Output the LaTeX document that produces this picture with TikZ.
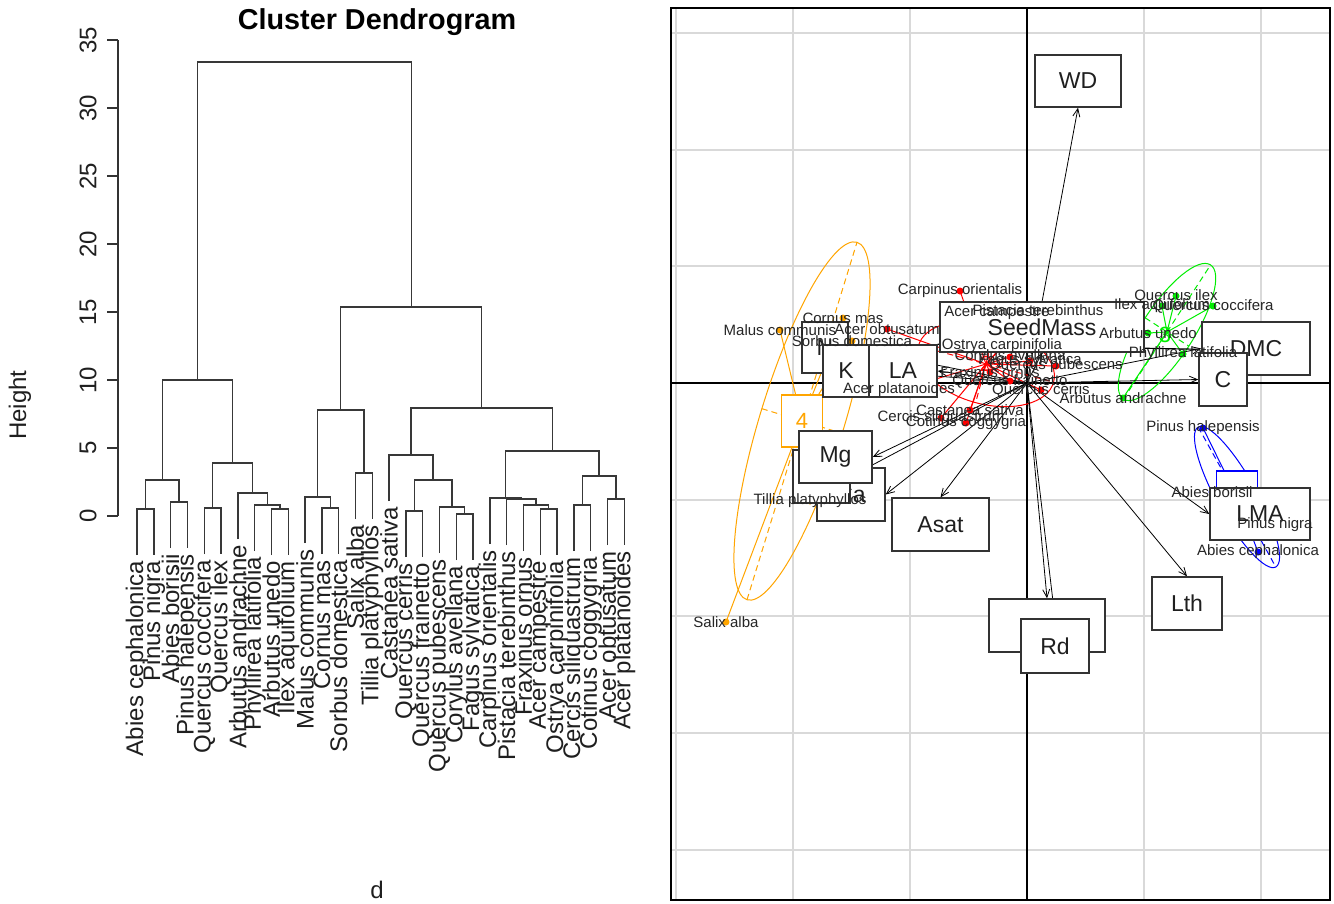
\documentclass[tikz,border=0pt]{standalone}
\usepackage{fontspec}
\setmainfont{Liberation Sans}
\usetikzlibrary{arrows.meta}
\newcommand{\myfs}[1]{\fontsize{#1}{#1}\selectfont}
\pgfdeclarelayer{gridl}\pgfdeclarelayer{clul}\pgfdeclarelayer{arrl}\pgfdeclarelayer{labl}
\pgfsetlayers{gridl,clul,arrl,main,labl}
\definecolor{clorange}{HTML}{FFA500}
\definecolor{clgreen}{HTML}{00EE00}
\definecolor{clblue}{HTML}{0000FF}
\definecolor{clred}{HTML}{FF0000}
\begin{document}
\begin{tikzpicture}[x=1pt,y=-1pt,
  dend/.style={line width=1.4pt, draw=black!78},
  leaflab/.style={font=\myfs{24}, rotate=90, anchor=east, inner sep=0pt, text=black!88},
  ticklab/.style={font=\myfs{24}, rotate=90, inner sep=0pt, text=black!88},
  gridln/.style={line width=1.5pt, draw=black!15},
  axln/.style={line width=1.2pt, draw=black},
  arr/.style={-{Straight Barb[length=8pt,width=7pt]}, line width=0.8pt, draw=black},
  vbox/.style={draw=black!80, line width=1.4pt, fill=white, font=\myfs{23}, inner sep=0pt, minimum height=52pt, text=black!88},
  cbox/.style={draw=#1, line width=1.2pt, fill=white, font=\myfs{22}, text=#1, inner sep=0pt, minimum height=52pt, minimum width=41pt},
  splab/.style={font=\myfs{15}, inner sep=0pt, text=black!85},
  spt/.style={circle, inner sep=0pt, minimum size=7pt, fill=#1},
  clu/.style={draw=#1, line width=1pt},
  cax/.style={draw=#1, line width=1pt, dash pattern=on 6pt off 4pt}]
\useasboundingbox (0,0) rectangle (1334,903);

% ================= Dendrogram =================
\node[font=\bfseries\myfs{28.8}] (title) at (377,22) {Cluster Dendrogram};
\node[font=\myfs{24}, rotate=90, text=black!88] (ylab) at (20,405) {Height};
\node[font=\myfs{24}, text=black!88] (xlab) at (377,890) {d};
\draw[axln, draw=black!80] (118,40) -- (118,516);
\foreach \v/\yy in {0/516,5/448,10/380,15/312,20/244,25/176,30/108,35/40} {
  \draw[axln, draw=black!80] (107,\yy) -- (118,\yy);
  \node[ticklab] (yt\v) at (88,\yy) {\v};
}
\foreach \i/\x/\e/\t in {
 0/137/555/Abies cephalonica, 1/153.8/555/Pinus nigra, 2/170.6/548/Abies borisii,
 3/187.4/548/Pinus halepensis, 4/204.2/554/Quercus coccifera, 5/221/554/Quercus ilex,
 6/237.8/539/Arbutus andrachne, 7/254.6/551/Phyllirea latifolia, 8/271.4/555/Arbutus unedo,
 9/288.2/555/Ilex aquifolium, 10/305/543/Malus communis, 11/321.8/554/Cornus mas,
 12/338.6/554/Sorbus domestica, 13/355.4/519/Salix alba, 14/372.2/519/Tillia platyphyllos,
 15/389/501/Castanea sativa, 16/405.8/557/Quercus cerris, 17/422.6/557/Quercus frainetto,
 18/439.4/553/Quercus pubescens, 19/456.2/560/Corylus avellana, 20/473/560/Fagus sylvatica,
 21/489.8/544/Carpinus orientalis, 22/506.6/545/Pistacia terebinthus, 23/523.4/551/Fraxinus ornus,
 24/540.2/555/Acer campestre, 25/557/555/Ostrya carpinifolia, 26/573.8/551/Cercis siliquastrum,
 27/590.6/551/Cotinus coggygria, 28/607.4/545/Acer obtusatum, 29/624.2/545/Acer platanoides} {
  \coordinate (l\i) at (\x,\e);
  \node[leaflab] (lt\i) at (\x,\e+6) {\t};
}
\foreach \m/\x/\y/\a/\b in {
 mA/145.4/509/l0/l1, mB/179/502/l2/l3, mC/162.2/480/mA/mB, mD/212.6/508/l4/l5,
 mE/279.8/509/l8/l9, mF/267.2/505/l7/mE, mG/252.5/493/l6/mF, mH/232.55/463/mD/mG,
 mL/197.4/380/mC/mH, mI/330.2/508/l11/l12, mJ/317.6/497/l10/mI, mK/363.8/473/l13/l14,
 mM/340.7/410/mJ/mK, mN/414.2/511/l16/l17, mO/464.6/514/l19/l20, mP/452/507/l18/mO,
 mQ/433.1/480/mN/mP, mR/411.05/455/l15/mQ, mS/548.6/509/l24/l25, mT/536/505/l23/mS,
 mU/521.3/499/l22/mT, mV/505.55/498/l21/mU, mW/582.2/505/l26/l27, mX/615.8/499/l28/l29,
 mY/599/476/mW/mX, mZ/552.3/451/mV/mY, mAA/481.7/408/mR/mZ, mAB/411.2/307/mM/mAA,
 mRoot/304.3/62/mL/mAB} {
  \coordinate (\m) at (\x,\y);
  \draw[dend] (\a) |- (\m) -| (\b);
}

% ================= Biplot =================
\begin{pgfonlayer}{gridl}
\fill[white] (0,0) rectangle (1334,903);
\foreach \gx in {676,793,910,1144,1261} \draw[gridln] (\gx,8) -- (\gx,900);
\foreach \gy in {33,150,266,500,616,733,850} \draw[gridln] (671,\gy) -- (1330,\gy);
\draw[axln] (1027,8) -- (1027,900);
\draw[axln] (671,383) -- (1330,383);
\draw[line width=1.3pt] (671,8) rectangle (1330,900);
\end{pgfonlayer}

\def\bluelist{b1/1203/428/Pinus halepensis, b2/1212/492/Abies borisii, b3/1275/525/Pinus nigra, b4/1258/552/Abies cephalonica}
\def\greenlist{g1/1176/296/Quercus ilex, g2/1162/306/Ilex aquifolium, g3/1213/306/Quercus coccifera, g4/1148/333/Arbutus unedo, g5/1183/354/Phyllirea latifolia, g6/1123/398/Arbutus andrachne}
\def\orangelist{o1/780/330/Malus communis, o2/843/318/Cornus mas, o3/852/341/Sorbus domestica, o4/726/622/Salix alba, o5/810/501/Tillia platyphyllos}
\def\redlist{r1/960/291/Carpinus orientalis, r2/997/313/Acer campestre, r3/1038/310/Pistacia terebinthus, r4/887/329/Acer obtusatum, r5/1002/346/Ostrya carpinifolia, r6/1010/357/Corylus avellana, r7/1030/361/Fagus sylvatica, r8/1056/366/Quercus pubescens, r9/990/372/Fraxinus ornus, r10/1010/381/Quercus frainetto, r11/1041/390/Quercus cerris, r12/899/390/Acer platanoides, r13/970/410/Castanea sativa, r14/941/418/Cercis siliquastrum, r15/966/423/Cotinus coggygria}

\coordinate (cB) at (1237,497);
\coordinate (cG) at (1167,332);
\coordinate (cO) at (802,421);
\coordinate (cR) at (986,364);

\begin{pgfonlayer}{clul}
\begin{scope}[shift={(cO)}, rotate=72.9]
  \draw[clu=clorange] (0,0) ellipse (187 and 42);
  \draw[cax=clorange] (-187,0) -- (187,0);
  \draw[cax=clorange] (0,-42) -- (0,42);
\end{scope}
\begin{scope}[shift={(cB)}, rotate=-61]
  \draw[clu=clblue] (0,0) ellipse (80 and 20);
  \draw[cax=clblue] (-80,0) -- (80,0);
  \draw[cax=clblue] (0,-20) -- (0,20);
\end{scope}
\begin{scope}[shift={(cG)}, rotate=57]
  \draw[clu=clgreen] (0,0) ellipse (80 and 26);
  \draw[cax=clgreen] (-80,0) -- (80,0);
  \draw[cax=clgreen] (0,-26) -- (0,26);
\end{scope}
\begin{scope}[shift={(cR)}, rotate=-15]
  \draw[clu=clred] (0,0) ellipse (70 and 40);
  \draw[cax=clred] (-70,0) -- (70,0);
  \draw[cax=clred] (0,-40) -- (0,40);
\end{scope}
\foreach \n/\x/\y/\t in \bluelist {\draw[clu=clblue] (cB) -- (\x,\y);}
\foreach \n/\x/\y/\t in \greenlist {\draw[clu=clgreen] (cG) -- (\x,\y);}
\foreach \n/\x/\y/\t in \orangelist {\draw[clu=clorange] (cO) -- (\x,\y);}
\foreach \n/\x/\y/\t in \redlist {\draw[clu=clred] (cR) -- (\x,\y);}
\node[cbox=clorange] (k4) at (cO) {4};
\node[cbox=clblue] (k1) at (cB) {1};
\node[font=\myfs{22}, text=clgreen, inner sep=0pt] (k3) at (1165,335) {3};
\node[font=\myfs{22}, text=clred, inner sep=0pt] (k2) at (cR) {2};
\end{pgfonlayer}

% variable boxes (main layer)
\node[vbox, minimum width=86pt] (WD) at (1078,81) {WD};
\node[vbox, minimum width=204pt, minimum height=50pt] (SM) at (1042,327) {SeedMass};
\node[vbox, minimum width=108pt, minimum height=53pt] (DMC) at (1256,348.5) {DMC};
\node[vbox, minimum width=48pt, minimum height=53pt] (C) at (1223,379.5) {C};
\node[vbox, minimum width=100pt] (LMA) at (1260,514) {LMA};
\node[vbox, minimum width=70pt, minimum height=53pt] (Lth) at (1187,603.5) {Lth};
\node[vbox, minimum width=116pt, minimum height=53pt] (Lb) at (1047,625.5) {};
\node[vbox, minimum width=68pt, minimum height=54pt] (Rd) at (1055,646) {Rd};
\node[vbox, minimum width=97pt, minimum height=53pt] (Asat) at (940.5,524.5) {Asat};
\node[vbox, minimum width=68pt, minimum height=53pt] (Ca) at (851,494.5) {Ca};
\node[vbox, minimum width=57pt, minimum height=53pt] (P) at (821.5,476.5) {P};
\node[vbox, minimum width=73pt] (Mg) at (835.5,457) {Mg};
\node[vbox, minimum width=46pt, minimum height=51pt] (N) at (825,347.5) {N};
\node[vbox, minimum width=46pt] (K) at (846,371) {K};
\node[vbox, minimum width=68pt] (LA) at (903,371) {LA};
\coordinate (O) at (1027,383);

\begin{pgfonlayer}{arrl}
\draw[line width=1.2pt] (LA.north east) -- ++(262,5);
\draw[arr] (O) -- (WD.south);
\draw[arr] (O) -- (SM.south);
\draw[arr] (O) -- (DMC.west);
\draw[arr] (O) -- (C.west);
\draw[arr] (O) -- (LMA.west);
\draw[arr] (O) -- (Lth.north);
\draw[arr] (O) -- (Lb.north);
\draw[arr] (O) -- (Rd.north);
\draw[arr] (O) -- (Asat.north);
\draw[arr] (O) -- (Ca.east);
\draw[arr] (O) -- (P.east);
\draw[arr] (O) -- (Mg.east);
\draw[arr] (O) -- (N.east);
\draw[arr] (O) -- (K.east);
\draw[arr] (O) -- (LA.east);
\foreach \n/\x/\y/\t in \bluelist {\node[spt=clblue] (\n) at (\x,\y) {};}
\foreach \n/\x/\y/\t in \greenlist {\node[spt=clgreen] (\n) at (\x,\y) {};}
\foreach \n/\x/\y/\t in \orangelist {\node[spt=clorange] (\n) at (\x,\y) {};}
\foreach \n/\x/\y/\t in \redlist {\node[spt=clred] (\n) at (\x,\y) {};}
\end{pgfonlayer}

\begin{pgfonlayer}{labl}
\foreach \n/\x/\y/\t in \bluelist {\node[splab] (\n t) at (\x,\y) {\t};}
\foreach \n/\x/\y/\t in \greenlist {\node[splab] (\n t) at (\x,\y) {\t};}
\foreach \n/\x/\y/\t in \orangelist {\node[splab] (\n t) at (\x,\y) {\t};}
\foreach \n/\x/\y/\t in \redlist {\node[splab] (\n t) at (\x,\y) {\t};}
\end{pgfonlayer}
\end{tikzpicture}
\end{document}
